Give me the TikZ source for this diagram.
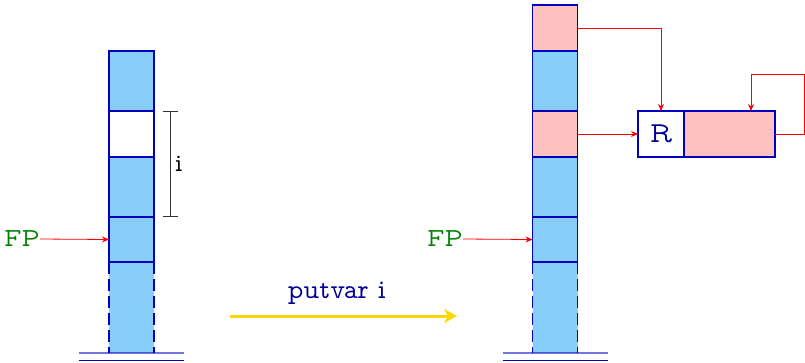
\documentclass[tikz,border=0pt]{standalone}
\usetikzlibrary{arrows.meta}
\DeclareFontFamily{OT1}{myvtt}{}
\DeclareFontShape{OT1}{myvtt}{m}{n}{<->cmvtt10}{}
\newcommand\vttfont{\fontencoding{OT1}\fontfamily{myvtt}\selectfont}
\definecolor{skyb}{RGB}{135,206,250}
\definecolor{pinkc}{RGB}{255,192,192}
\definecolor{edgeb}{RGB}{0,0,190}
\definecolor{fpgreen}{RGB}{0,128,0}
\definecolor{lblue}{RGB}{0,0,150}
\definecolor{gold}{RGB}{255,215,0}
\tikzset{
  cell/.style={draw=edgeb, line width=1.1pt, minimum width=45pt, inner sep=0pt, outer sep=0pt},
  blu/.style={cell, fill=skyb},
  pnk/.style={cell, fill=pinkc},
  wht/.style={cell, fill=white},
  botcell/.style={fill=skyb, minimum width=45pt, minimum height=91pt, inner sep=0pt, outer sep=0pt},
  dashedge/.style={draw=edgeb, line width=1.1pt, dash pattern=on 12pt off 5pt},
  redarr/.style={draw=red, line width=0.8pt, -{Stealth[length=7pt,width=6pt]}},
  lbl/.style={font=\vttfont\fontsize{27}{27}\selectfont, inner sep=0pt},
  ground/.style={draw=edgeb, line width=1.1pt},
}
\begin{document}
\begin{tikzpicture}[x=1pt,y=-1pt]
\useasboundingbox (0,0) rectangle (805,362);
% left stack
\node[blu, minimum height=60pt] (l1) at (131.5,81) {};
\node[wht, minimum height=46pt] (l2) at (131.5,134) {};
\node[blu, minimum height=60pt] (l3) at (131.5,187) {};
\node[blu, minimum height=45pt] (l4) at (131.5,239.5) {};
\node[botcell] (l5) at (131.5,307.5) {};
\draw[ground] (l5.north west) -- (l5.north east);
\draw[dashedge] (l5.north west) -- (l5.south west);
\draw[dashedge] (l5.north east) -- (l5.south east);
\draw[ground, draw opacity=0.55] ([xshift=-30pt]l5.south west) -- ([xshift=30pt]l5.south east);
\draw[ground] ([xshift=-30pt,yshift=-7.5pt]l5.south west) -- ([xshift=30pt,yshift=-7.5pt]l5.south east);
% brace i
\draw[black!80, line width=0.8pt, {Bar[width=15pt]}-{Bar[width=15pt]}] ([xshift=16pt]l2.north east) -- ([xshift=16pt]l3.south east)
  node[midway, right=5pt, lbl, font=\vttfont\fontsize{25}{25}\selectfont, text=black] (ilbl) {i};
% FP left
\node[lbl, font=\vttfont\fontsize{26}{26}\selectfont, text=fpgreen, anchor=east] (fpL) at (40,239) {FP};
\draw[redarr] (fpL.east) -- (l4.west);

% right stack
\node[pnk, minimum height=46pt] (r0) at (555,28) {};
\node[blu, minimum height=60pt] (r1) at (555,81) {};
\node[pnk, minimum height=46pt] (r2) at (555,134) {};
\node[blu, minimum height=60pt] (r3) at (555,187) {};
\node[blu, minimum height=45pt] (r4) at (555,239.5) {};
\node[botcell] (r5) at (555,307.5) {};
\draw[ground] (r5.north west) -- (r5.north east);
\draw[dashedge] (r5.north west) -- (r5.south west);
\draw[dashedge] (r5.north east) -- (r5.south east);
\draw[ground, draw opacity=0.55] ([xshift=-30pt]r5.south west) -- ([xshift=30pt]r5.south east);
\draw[ground] ([xshift=-30pt,yshift=-7.5pt]r5.south west) -- ([xshift=30pt,yshift=-7.5pt]r5.south east);
% FP right
\node[lbl, font=\vttfont\fontsize{26}{26}\selectfont, text=fpgreen, anchor=east] (fpR) at (463,239) {FP};
\draw[redarr] (fpR.east) -- (r4.west);

% R record
\node[wht, minimum width=46pt, minimum height=46pt] (R) at (661,134) {};
\node[lbl, font=\vttfont\fontsize{29}{29}\selectfont, text=lblue] (Rtxt) at (R.center) {R};
\node[pnk, minimum width=91pt, minimum height=46pt] (Rp) at (729.5,134) {};

\draw[redarr] (r0.east) -| (R.north);
\draw[redarr] (r2.east) -- (R.west);
\draw[redarr] (Rp.east) -- ++(29pt,0) |- ([xshift=21.5pt,yshift=37pt]Rp.north) -- ([xshift=21.5pt]Rp.north);

% putvar arrow
\coordinate (ys) at (230,316);
\coordinate (ye) at (457,316);
\draw[gold, line width=3pt, -{Stealth[length=13pt,width=14pt,inset=4pt]}] (ys) -- (ye);
\node[lbl, text=lblue] (pv) at (337,293) {putvar i};
\end{tikzpicture}
\end{document}
